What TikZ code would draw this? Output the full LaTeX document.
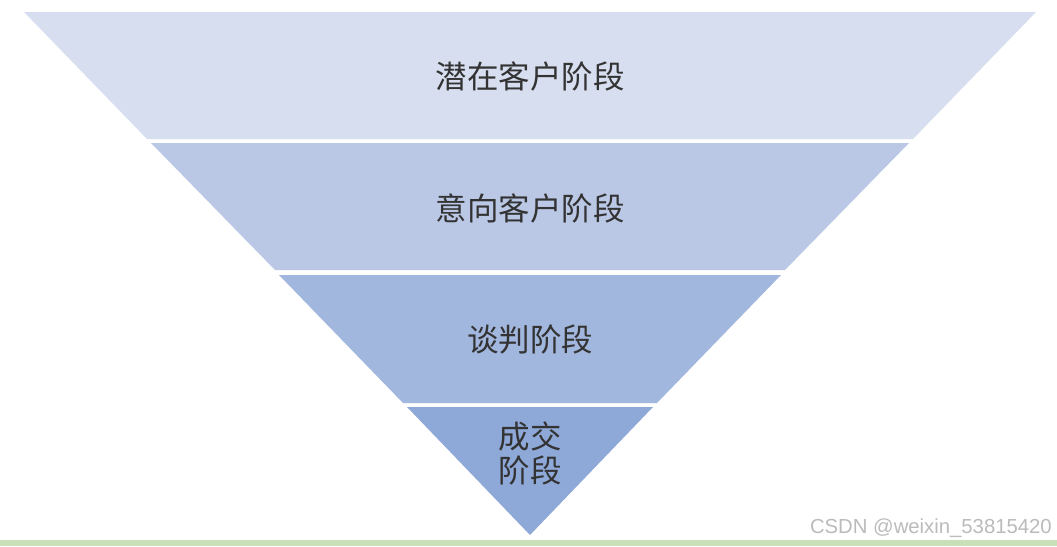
\documentclass[tikz,border=0pt]{standalone}
\usepackage{fontspec}
\newfontfamily\cjk{Noto Sans CJK SC}
\setsansfont{Liberation Sans}
\definecolor{lone}{HTML}{D6DEEF}
\definecolor{ltwo}{HTML}{BAC8E6}
\definecolor{lthree}{HTML}{A2B7DE}
\definecolor{lfour}{HTML}{8EA8D8}
\definecolor{barg}{HTML}{C8DFB8}
\definecolor{wm}{HTML}{BBBBBB}
\tikzset{
  layer/.style={draw=none},
  lbl/.style={font=\cjk\fontsize{31.5}{34}\selectfont, text=black!80, align=center, inner sep=0pt},
}
\begin{document}
\begin{tikzpicture}[x=1pt,y=-1pt]
\useasboundingbox (0,0) rectangle (1057,546);
\fill[white] (0,0) rectangle (1057,546);
\fill[lone]   (24,12) -- (1036,12) -- (913,139) -- (147,139) -- cycle;
\fill[ltwo]   (151,143) -- (909,143) -- (785,270) -- (275,270) -- cycle;
\fill[lthree] (279,275) -- (781,275) -- (657,403) -- (403,403) -- cycle;
\fill[lfour]  (407,407) -- (653,407) -- (530,535) -- cycle;
\fill[barg] (0,540) rectangle (1057,546);
\node[lbl] (t1) at (530,76) {潜在客户阶段};
\node[lbl] (t2) at (530,208) {意向客户阶段};
\node[lbl] (t3) at (530,340) {谈判阶段};
\node[lbl] (t4) at (530,453) {成交\\阶段};
\node[font=\sffamily\fontsize{20.3}{22}\selectfont, text=wm, anchor=east, inner sep=0pt] (wmk) at (1052,528) {CSDN @weixin\_53815420};
\end{tikzpicture}
\end{document}
